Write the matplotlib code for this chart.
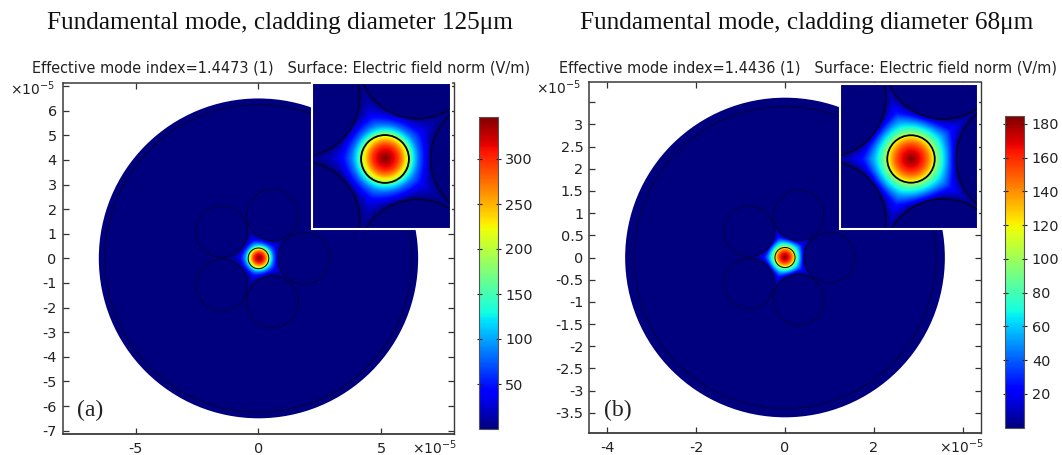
import numpy as np
import matplotlib
matplotlib.use('Agg')
import matplotlib.pyplot as plt
from matplotlib.patches import Circle
from matplotlib.cm import ScalarMappable
from matplotlib.colors import Normalize

plt.rcParams['axes.unicode_minus'] = False
plt.rcParams['mathtext.default'] = 'regular'
plt.rcParams['font.family'] = 'DejaVu Sans'

W, H = 1062, 455

# ---- data (lengths in units of 1e-5 m) ----
titles = ['Fundamental mode, cladding diameter 125\u03bcm',
          'Fundamental mode, cladding diameter 68\u03bcm']
subtitles = ['Effective mode index=1.4473 (1)   Surface: Electric field norm (V/m)',
             'Effective mode index=1.4436 (1)   Surface: Electric field norm (V/m)']
panel_labels = ['(a)', '(b)']

outer_radius = [6.5, 3.6]
inner_radius = [6.25, 3.4]
core_radius = [0.42, 0.226]
capillary_ring = [1.85, 1.0]
capillary_radius = [1.05, 0.57]
capillary_angles = [0, 72, 144, 216, 288]

# radial field profile: r / core radius -> field norm (V/m)
profile_r_a = [0, 0.2, 0.5, 0.7, 0.85, 0.95, 1.05, 1.15, 1.4, 1.8, 2.4, 3.2, 5.0]
profile_E_a = [347, 330, 300, 265, 230, 205, 165, 135, 92, 56, 30, 14, 0]
profile_r_b = [0, 0.2, 0.5, 0.7, 0.9, 1.0, 1.1, 1.3, 1.6, 2.0, 2.6, 3.4, 5.0]
profile_E_b = [184, 175, 160, 145, 125, 108, 94, 78, 60, 42, 26, 12, 0]
confine_len = [0.22, 0.11]

vmax = [347, 184.7]
xticks_a = [-5, 0, 5]
yticks_a = [-7, -6, -5, -4, -3, -2, -1, 0, 1, 2, 3, 4, 5, 6, 7]
yticklabels_a = ['-7', '-6', '-5', '-4', '-3', '-2', '-1', '0', '1', '2', '3', '4', '5', '6', '']
xticks_b = [-4, -2, 0, 2, 4]
xticklabels_b = ['-4', '-2', '0', '2', '']
yticks_b = [-3.5, -3, -2.5, -2, -1.5, -1, -0.5, 0, 0.5, 1, 1.5, 2, 2.5, 3, 3.5]
yticklabels_b = ['-3.5', '-3', '-2.5', '-2', '-1.5', '-1', '-0.5', '0', '0.5', '1', '1.5', '2', '2.5', '3', '']
cbar_ticks_a = [50, 100, 150, 200, 250, 300]
cbar_ticks_b = [20, 40, 60, 80, 100, 120, 140, 160, 180]
xlims = [(-7.97, 7.96), (-4.405, 4.407)]
ylims = [(-7.15, 7.14), (-3.96, 3.96)]
inset_xlims = [(-1.286, 1.149), (-0.673, 0.633)]
inset_ylims = [(-1.22, 1.328), (-0.667, 0.719)]


def box(l, t, r, b):
    return [l / W, 1 - b / H, (r - l) / W, (b - t) / H]


def field(xlim, ylim, n, i, pr, pe):
    x = np.linspace(xlim[0], xlim[1], n)
    y = np.linspace(ylim[0], ylim[1], n)
    X, Y = np.meshgrid(x, y)
    R = np.hypot(X, Y)
    E = np.interp(R / core_radius[i], pr, pe)
    dmin = np.full(X.shape, 1e9)
    for a in capillary_angles:
        cx = capillary_ring[i] * np.cos(np.radians(a))
        cy = capillary_ring[i] * np.sin(np.radians(a))
        d = np.hypot(X - cx, Y - cy) - capillary_radius[i]
        dmin = np.minimum(dmin, d)
    confine = 1 - np.exp(-np.clip(dmin, 0, None) / confine_len[i])
    blend = np.clip((R - core_radius[i]) / core_radius[i], 0, 1)
    return E * (1 - blend * (1 - confine))


def draw_geometry(ax, i, lw, core_lw):
    navy = '#00003c'
    for a in capillary_angles:
        cx = capillary_ring[i] * np.cos(np.radians(a))
        cy = capillary_ring[i] * np.sin(np.radians(a))
        ax.add_patch(Circle((cx, cy), capillary_radius[i], fill=False, ec=navy, lw=lw))
    ax.add_patch(Circle((0, 0), inner_radius[i], fill=False, ec=navy, lw=lw))
    ax.add_patch(Circle((0, 0), core_radius[i], fill=False, ec='#000000', lw=core_lw))


def panel(i, main_box, inset_box, cbar_box, pr, pe, xt, xtl, yt, ytl, cbt,
          sub_xy, title_xy, lab_xy, mult_top, mult_bot):
    ax = fig.add_axes(box(*main_box))
    norm = Normalize(0, vmax[i])
    F = field(xlims[i], ylims[i], 1400, i, pr, pe)
    im = ax.imshow(F, origin='lower', cmap='jet', norm=norm, aspect='auto',
                   extent=[*xlims[i], *ylims[i]], interpolation='bilinear', zorder=1)
    disk = Circle((0, 0), outer_radius[i], transform=ax.transData)
    im.set_clip_path(disk)
    draw_geometry(ax, i, 0.7, 0.7)
    ax.set_xlim(*xlims[i])
    ax.set_ylim(*ylims[i])
    ax.set_xticks(xt)
    ax.set_xticklabels(xtl)
    ax.set_yticks(yt)
    ax.set_yticklabels(ytl)
    ax.tick_params(direction='in', length=4.3, width=0.9, top=True, right=True,
                   labelsize=10.4, color='#333333', labelcolor='#222222', pad=5.4)
    ax.tick_params(axis='y', pad=4.3)
    for s, w in zip(['left', 'bottom', 'top', 'right'], [1.1, 1.3, 1.1, 1.0]):
        ax.spines[s].set_linewidth(w)
        ax.spines[s].set_color('#3a3a3a')

    # inset zoom
    axi = fig.add_axes(box(*inset_box), zorder=5)
    Fi = field(inset_xlims[i], inset_ylims[i], 500, i, pr, pe)
    axi.imshow(Fi, origin='lower', cmap='jet', norm=norm, aspect='auto',
               extent=[*inset_xlims[i], *inset_ylims[i]], interpolation='bilinear')
    draw_geometry(axi, i, 1.3, 1.3)
    axi.set_xlim(*inset_xlims[i])
    axi.set_ylim(*inset_ylims[i])
    axi.set_xticks([])
    axi.set_yticks([])
    for s in axi.spines.values():
        s.set_color('white')
        s.set_linewidth(1.5)

    # colour bar
    cax = fig.add_axes(box(*cbar_box))
    cb = fig.colorbar(ScalarMappable(norm=norm, cmap='jet'), cax=cax)
    cb.set_ticks(cbt)
    cax.tick_params(direction='inout', length=3.6, width=0.8, left=True, right=True,
                    labelsize=10.4, color='#222222', labelcolor='#222222', pad=3.6)
    cb.outline.set_edgecolor('#555555')
    cb.outline.set_linewidth(0.8)

    # texts
    fig.text(sub_xy[0] / W, 1 - sub_xy[1] / H, subtitles[i], fontsize=10.45,
             color='#222222', ha='left', va='center')
    fig.text(title_xy[0] / W, 1 - title_xy[1] / H, titles[i], fontsize=18.2,
             family='Liberation Serif', color='#111111', ha='center', va='center')
    fig.text(lab_xy[0] / W, 1 - lab_xy[1] / H, panel_labels[i], fontsize=17,
             family='Liberation Serif', color='#222222', ha='center', va='center')
    fig.text(mult_top[0] / W, 1 - mult_top[1] / H, '\u00d710$^{-5}$', fontsize=10,
             color='#222222', ha='center', va='center')
    fig.text(mult_bot[0] / W, 1 - mult_bot[1] / H, '\u00d710$^{-5}$', fontsize=10,
             color='#222222', ha='center', va='center')


fig = plt.figure(figsize=(W / 100, H / 100), dpi=100)

panel(0, (62.7, 82.7, 454, 434.3), (311.7, 83.3, 450.5, 228.5), (479, 116.7, 497.6, 429),
      profile_r_a, profile_E_a, xticks_a, ['-5', '0', '5'], yticks_a, yticklabels_a,
      cbar_ticks_a, (32, 68), (279.6, 23), (90, 410), (32, 89), (434, 448))
panel(1, (589.4, 81.7, 980.7, 433.3), (840.3, 83.5, 977.5, 229), (1005.4, 116, 1024.4, 427.7),
      profile_r_b, profile_E_b, xticks_b, xticklabels_b, yticks_b, yticklabels_b,
      cbar_ticks_b, (559, 68), (806.5, 23), (617.5, 410), (558, 88), (961, 447))

fig.savefig('out.png', dpi=100, facecolor='white')
